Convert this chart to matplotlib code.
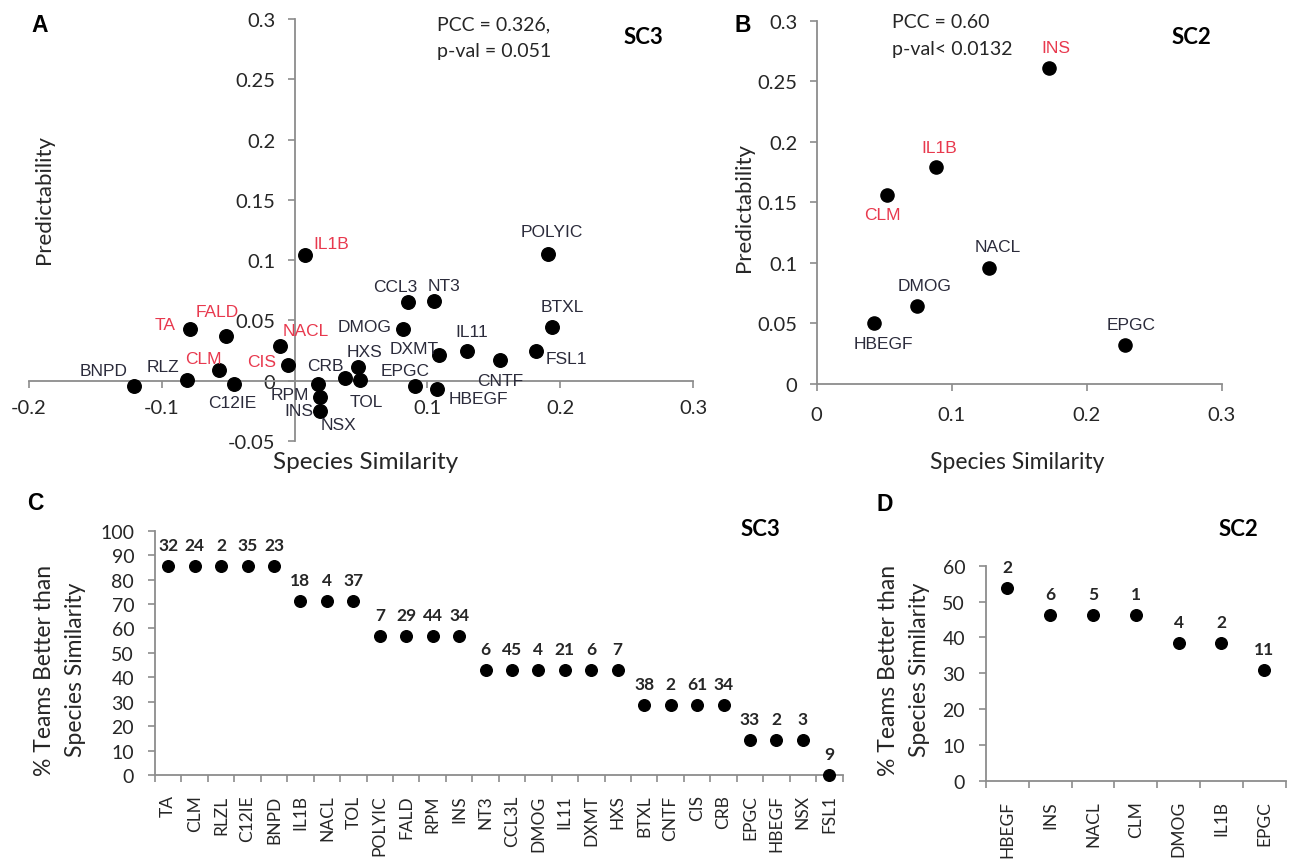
import numpy as np
import matplotlib
matplotlib.use('Agg')
import matplotlib.pyplot as plt

plt.rcParams['font.family'] = ['Lato', 'DejaVu Sans']

W, H = 1295, 862

# ---- data -------------------------------------------------------------
# A: SC3 species similarity vs predictability
a_names = ['BNPD', 'RLZ', 'CLM', 'C12IE', 'TA', 'FALD', 'NACL', 'CIS', 'IL1B',
           'RPM', 'INS', 'NSX', 'CRB', 'HXS', 'TOL', 'DMOG', 'CCL3', 'NT3',
           'DXMT', 'EPGC', 'HBEGF', 'IL11', 'CNTF', 'FSL1', 'BTXL', 'POLYIC']
a_sim = [-0.121, -0.081, -0.057, -0.046, -0.079, -0.052, -0.011, -0.005, 0.008,
         0.0175, 0.019, 0.019, 0.038, 0.0476, 0.049, 0.0815, 0.0857, 0.105,
         0.109, 0.0905, 0.107, 0.1296, 0.155, 0.1817, 0.1935, 0.1905]
a_pred = [-0.004, 0.001, 0.0086, -0.0025, 0.0425, 0.0375, 0.029, 0.0128, 0.104,
          -0.003, -0.0136, -0.025, 0.0025, 0.011, 0.001, 0.043, 0.065, 0.066,
          0.021, -0.004, -0.007, 0.025, 0.017, 0.0247, 0.0447, 0.105]
a_red = ['TA', 'FALD', 'NACL', 'CLM', 'CIS', 'IL1B']

# B: SC2
b_names = ['INS', 'IL1B', 'CLM', 'NACL', 'DMOG', 'HBEGF', 'EPGC']
b_sim = [0.172, 0.0884, 0.0518, 0.1274, 0.0745, 0.0424, 0.2284]
b_pred = [0.261, 0.179, 0.156, 0.0955, 0.0642, 0.0501, 0.0322]
b_red = ['INS', 'IL1B', 'CLM']

# C: SC3 % teams better than species similarity
c_cats = ['TA', 'CLM', 'RLZL', 'C12IE', 'BNPD', 'IL1B', 'NACL', 'TOL', 'POLYIC',
          'FALD', 'RPM', 'INS', 'NT3', 'CCL3L', 'DMOG', 'IL11', 'DXMT', 'HXS',
          'BTXL', 'CNTF', 'CIS', 'CRB', 'EPGC', 'HBEGF', 'NSX', 'FSL1']
c_pct = [85.7, 85.7, 85.7, 85.7, 85.7, 71.4, 71.4, 71.4, 57.1, 57.1, 57.1, 57.1,
         42.9, 42.9, 42.9, 42.9, 42.9, 42.9, 28.6, 28.6, 28.6, 28.6,
         14.3, 14.3, 14.3, 0.0]
c_n = [32, 24, 2, 35, 23, 18, 4, 37, 7, 29, 44, 34, 6, 45, 4, 21, 6, 7,
       38, 2, 61, 34, 33, 2, 3, 9]

# D: SC2
d_cats = ['HBEGF', 'INS', 'NACL', 'CLM', 'DMOG', 'IL1B', 'EPGC']
d_pct = [53.8, 46.2, 46.2, 46.2, 38.5, 38.5, 30.8]
d_n = [2, 6, 5, 1, 4, 2, 11]

# label placement (pixels: ha, dx, dy)
a_lab = {'BNPD': ('right', -6, 15), 'RLZ': ('right', -8, 13),
         'CLM': ('center', -16, 12), 'C12IE': ('center', -1, -19),
         'TA': ('right', -14, 5), 'FALD': ('center', -8, 24),
         'NACL': ('left', 3, 15), 'CIS': ('right', -12, 4),
         'IL1B': ('left', 8, 12), 'RPM': ('right', -9, -10),
         'INS': ('right', -6, -13), 'NSX': ('left', 1, -14),
         'CRB': ('center', -20, 12), 'HXS': ('center', 7, 16),
         'TOL': ('center', 7, -22), 'DMOG': ('right', -11, 2),
         'CCL3': ('center', -13, 16), 'NT3': ('center', 10, 16),
         'DXMT': ('center', -25, 7), 'EPGC': ('center', -10, 15),
         'HBEGF': ('left', 12, -9), 'IL11': ('center', 5, 19),
         'CNTF': ('center', 0, -20), 'FSL1': ('left', 10, -8),
         'BTXL': ('center', 11, 20), 'POLYIC': ('center', 4, 23)}
b_lab = {'INS': (7, 20), 'IL1B': (3, 20), 'CLM': (-4, -19), 'NACL': (9, 22),
         'DMOG': (7, 21), 'HBEGF': (9, -20), 'EPGC': (6, 21)}

RED = '#E8394E'
DARK = '#2B2B3B'
GREY = '#8C8C8C'
TXT = '#262626'

fig = plt.figure(figsize=(W / 100, H / 100), dpi=100)


def add_ax(l, t, r, b):
    return fig.add_axes([l / W, 1 - b / H, (r - l) / W, (b - t) / H])


def ftext(x, y, s, **kw):
    fig.text(x / W, 1 - y / H, s, **kw)


def style(ax):
    for s in ('top', 'right'):
        ax.spines[s].set_visible(False)
    for s in ('left', 'bottom'):
        ax.spines[s].set_color(GREY)
        ax.spines[s].set_linewidth(1.3)
    ax.tick_params(colors=GREY, labelcolor=TXT, length=5, width=1.2,
                   direction='out')
    ax.patch.set_alpha(0)


# ---- A ----------------------------------------------------------------
ax = add_ax(29, 20, 693, 442)
style(ax)
ax.spines['left'].set_position(('data', 0))
ax.spines['bottom'].set_position(('data', 0))
ax.set_xlim(-0.2, 0.3)
ax.set_ylim(-0.05, 0.3)
ax.set_xticks([-0.2, -0.1, 0, 0.1, 0.2, 0.3])
ax.set_xticklabels(['-0.2', '-0.1', '', '0.1', '0.2', '0.3'])
ax.set_yticks([-0.05, 0, 0.05, 0.1, 0.15, 0.2, 0.25, 0.3])
ax.set_yticklabels(['-0.05', '0', '0.05', '0.1', '0.15', '0.2', '0.25', '0.3'])
ax.tick_params(axis='y', labelsize=14.5, pad=9)
ax.tick_params(axis='x', labelsize=14.5, pad=8)
ax.scatter(a_sim, a_pred, s=95, color='black', zorder=3, clip_on=False)
for n, x, y in zip(a_names, a_sim, a_pred):
    ha, dx, dy = a_lab[n]
    ax.annotate(n, (x, y), xytext=(dx, dy), textcoords='offset pixels',
                ha=ha, va='center', fontsize=12.5, family='Liberation Sans',
                color=RED if n in a_red else DARK)
ftext(437, 25, 'PCC = 0.326,', fontsize=14, va='center', color=TXT)
ftext(437, 52, 'p-val = 0.051', fontsize=14, va='center', color=TXT)
ftext(643, 37, 'SC3', fontsize=16, weight='bold', ha='center', va='center')
ftext(40, 25, 'A', fontsize=16.5, weight='bold', family='Liberation Sans',
      ha='center', va='center')
ftext(44, 200, 'Predictability', fontsize=16, rotation=90, ha='center',
      va='center', color=TXT)
ftext(366, 463, 'Species Similarity', fontsize=17.5, ha='center', va='center',
      color=TXT)

# ---- B ----------------------------------------------------------------
ax = add_ax(816.7, 21.7, 1221.7, 385)
style(ax)
ax.set_xlim(0, 0.3)
ax.set_ylim(0, 0.3)
ax.set_xticks([0, 0.1, 0.2, 0.3])
ax.set_xticklabels(['0', '0.1', '0.2', '0.3'])
ax.set_yticks([0, 0.05, 0.1, 0.15, 0.2, 0.25, 0.3])
ax.set_yticklabels(['0', '0.05', '0.1', '0.15', '0.2', '0.25', '0.3'])
ax.tick_params(axis='y', labelsize=14.5, pad=9)
ax.tick_params(axis='x', labelsize=14.5, pad=11)
ax.scatter(b_sim, b_pred, s=90, color='black', zorder=3, clip_on=False)
for n, x, y in zip(b_names, b_sim, b_pred):
    dx, dy = b_lab[n]
    ax.annotate(n, (x, y), xytext=(dx, dy), textcoords='offset pixels',
                ha='center', va='center', fontsize=12.5,
                family='Liberation Sans',
                color=RED if n in b_red else DARK)
ftext(892, 23, 'PCC = 0.60', fontsize=14, va='center', color=TXT)
ftext(892, 49, 'p-val< 0.0132', fontsize=14, va='center', color=TXT)
ftext(1191, 37, 'SC2', fontsize=16, weight='bold', ha='center', va='center')
ftext(743, 25, 'B', fontsize=16.5, weight='bold', family='Liberation Sans',
      ha='center', va='center')
ftext(744, 207, 'Predictability', fontsize=16, rotation=90, ha='center',
      va='center', color=TXT)
ftext(1017, 463, 'Species Similarity', fontsize=16.5, ha='center', va='center',
      color=TXT)


# ---- C / D ------------------------------------------------------------
def rank_panel(ax, cats, pct, nums, ymax, ystep):
    style(ax)
    k = len(cats)
    pos = np.arange(k)
    ax.set_xlim(-0.5, k - 0.5)
    ax.set_ylim(0, ymax)
    ax.set_yticks(np.arange(0, ymax + 1, ystep))
    ax.set_xticks(np.arange(k + 1) - 0.5)
    ax.set_xticklabels([])
    ax.set_xticks(pos, minor=True)
    ax.set_xticklabels(cats, minor=True, rotation=90, fontsize=12.5,
                       color=TXT)
    ax.tick_params(axis='x', which='minor', length=0, pad=14)
    ax.tick_params(axis='y', labelsize=14, pad=10)
    ax.scatter(pos, pct, s=70, color='black', zorder=3, clip_on=False)
    for x, y, n in zip(pos, pct, nums):
        ax.annotate(str(n), (x, y), xytext=(0, 21), textcoords='offset pixels',
                    ha='center', va='center', fontsize=12.5, weight='bold',
                    color=TXT)


ax = add_ax(155, 531.7, 842.5, 776)
rank_panel(ax, c_cats, c_pct, c_n, 100, 10)
ftext(35, 503, 'C', fontsize=16.5, weight='bold', family='Liberation Sans',
      ha='center', va='center')
ftext(760, 530, 'SC3', fontsize=16, weight='bold', ha='center', va='center')
ftext(60, 670, '% Teams Better than\nSpecies Similarity', fontsize=16.5,
      rotation=90, ha='center', va='center', color=TXT, linespacing=1.55)

ax = add_ax(986, 566.7, 1285.6, 781.7)
rank_panel(ax, d_cats, d_pct, d_n, 60, 10)
ftext(885, 505, 'D', fontsize=16.5, weight='bold', family='Liberation Sans',
      ha='center', va='center')
ftext(1238, 530, 'SC2', fontsize=16, weight='bold', ha='center', va='center')
ftext(904, 670, '% Teams Better than\nSpecies Similarity', fontsize=16.5,
      rotation=90, ha='center', va='center', color=TXT, linespacing=1.55)

fig.savefig('out.png', dpi=100)
